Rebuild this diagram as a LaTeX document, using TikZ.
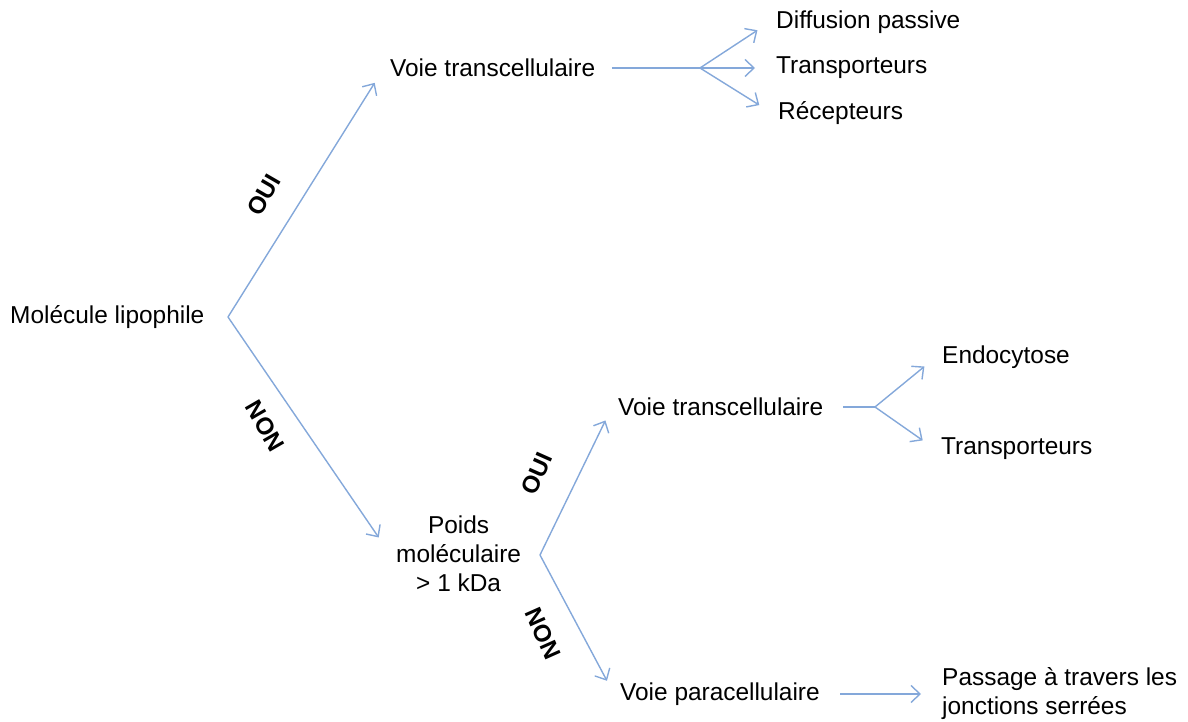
\documentclass[tikz,border=0pt]{standalone}
\usepackage{fontspec}
\setmainfont{Liberation Sans}
\usetikzlibrary{arrows.meta}
\definecolor{arrowBlue}{RGB}{132,168,218}

\begin{document}
\begin{tikzpicture}[x=0.02cm, y=-0.02cm]
	\begin{scope}[>={Straight Barb[length=1.8mm,width=3.4mm]}] %open arrow tips
	\tikzset{
		txt/.style={anchor=west, font=\fontsize{13.9}{16.5}\selectfont, align=left},
		answer/.style={font=\fontsize{13.7}{16.5}\selectfont\bfseries},
		arr/.style={->, color=arrowBlue, thick, shorten >=0.3cm},
		stem/.style={color=arrowBlue, thick}
	}
	\useasboundingbox (0,0) rectangle (1188,722);
	
	% left part
	\node (mol) at (4, 317) [txt] {Molécule lipophile};
	\coordinate (brA) at (228, 317);
	
	\node (tcA) at (384, 68) [txt] {Voie transcellulaire};
	\node (poids) at (390, 554) [txt, align=center] {Poids\\moléculaire\\> 1 kDa};
	
	\draw[arr, shorten >=0.35cm] (brA) -- (tcA.west);
	\draw[arr, shorten >=0.4cm] (brA) -- (poids.west);
	
	\node (ouiA) at (264, 195) [answer, rotate=60] {OUI};
	\node (nonA) at (265, 426) [answer, rotate=-60] {NON};
	
	% first transcellular branch
	\coordinate (forkA) at (700, 68);
	\node (diff) at (770, 22) [txt] {Diffusion passive};
	\node (transA) at (770, 68) [txt] {Transporteurs};
	\node (recep) at (772, 113) [txt] {Récepteurs};
	
	\draw[stem] ([xshift=6]tcA.east) -- (forkA);
	\draw[arr] (forkA) -- (diff.west);
	\draw[arr] (forkA) -- (transA.west);
	\draw[arr] (forkA) -- (recep.west);
	
	% weight branch
	\coordinate (brB) at (540, 555);
	\node (tcB) at (612, 407) [txt] {Voie transcellulaire};
	\node (para) at (614, 694) [txt] {Voie paracellulaire};
	
	\draw[arr] (brB) -- (tcB.west);
	\draw[arr] (brB) -- (para.west);
	
	\node (ouiB) at (537, 474) [answer, rotate=66] {OUI};
	\node (nonB) at (543, 634) [answer, rotate=-66] {NON};
	
	% second transcellular branch
	\coordinate (forkB) at (875, 407);
	\node (endo) at (936, 357) [txt] {Endocytose};
	\node (transB) at (935, 449) [txt] {Transporteurs};
	
	\draw[stem] ([xshift=8]tcB.east) -- (forkB);
	\draw[arr] (forkB) -- (endo.west);
	\draw[arr] (forkB) -- (transB.west);
	
	% paracellular
	\node (passage) at (936, 694) [txt] {Passage à travers les\\jonctions serrées};
	\draw[arr] ([xshift=8]para.east) -- (passage.west);
	
	\end{scope}
\end{tikzpicture}
\end{document}
